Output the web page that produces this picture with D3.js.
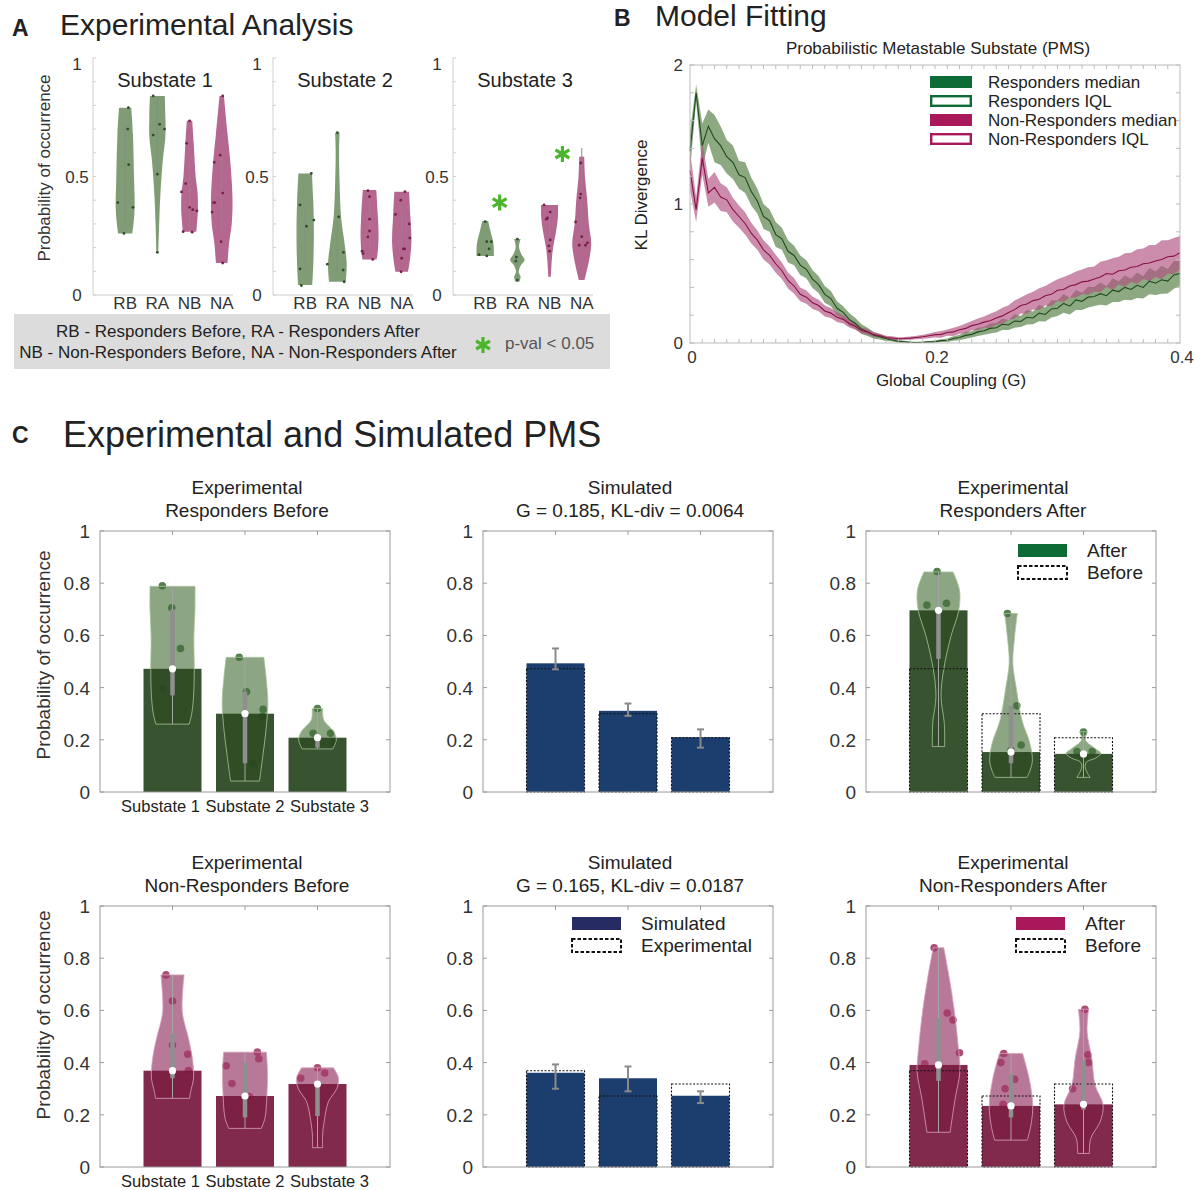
<!DOCTYPE html>
<html><head><meta charset="utf-8">
<script src="https://cdn.jsdelivr.net/npm/d3@7"></script>
<style>body{margin:0;background:#fff}svg text{font-family:"Helvetica Neue","Liberation Sans",Arial,sans-serif;fill:#222}</style>
</head><body>
<svg id="c" width="1194" height="1190"></svg>
<script>
// ---------------- DATA ----------------
const groupsA = ["RB","RA","NB","NA"];
const substates = ["Substate 1","Substate 2","Substate 3"];
const yTicksA = [0, 0.5, 1];
const yTicksC = [0, 0.2, 0.4, 0.6, 0.8, 1];
const xTicksB = [0, 0.2, 0.4];
const yTicksB = [0, 1, 2];

// Panel A violins: profile [value, half-width in category units], points [value, jitter]
const profA1 = [
 [[0.79,0.19],[0.68,0.24],[0.47,0.28],[0.37,0.295],[0.29,0.25],[0.26,0.22]],
 [[0.84,0.23],[0.75,0.25],[0.67,0.25],[0.57,0.17],[0.44,0.10],[0.30,0.056],[0.18,0.03]],
 [[0.735,0.084],[0.64,0.13],[0.50,0.19],[0.43,0.25],[0.36,0.26],[0.30,0.23],[0.267,0.21]],
 [[0.84,0.07],[0.68,0.18],[0.54,0.28],[0.40,0.335],[0.30,0.31],[0.22,0.23],[0.135,0.18]]
];
const profA2 = [
 [[0.513,0.21],[0.40,0.25],[0.26,0.27],[0.12,0.25],[0.042,0.22]],
 [[0.685,0.07],[0.61,0.053],[0.47,0.07],[0.33,0.115],[0.22,0.22],[0.134,0.29],[0.056,0.26]],
 [[0.443,0.21],[0.33,0.26],[0.246,0.28],[0.176,0.25],[0.15,0.22]],
 [[0.436,0.23],[0.33,0.27],[0.218,0.30],[0.134,0.24],[0.098,0.195]]
];
const profA3 = [
 [[0.312,0.093],[0.274,0.155],[0.218,0.255],[0.176,0.27],[0.165,0.27]],
 [[0.236,0.10],[0.204,0.053],[0.173,0.12],[0.148,0.225],[0.127,0.115],[0.098,0.04],[0.077,0.10],[0.056,0.06]],
 [[0.38,0.265],[0.33,0.26],[0.274,0.21],[0.19,0.10],[0.12,0.056],[0.077,0.04]],
 [[0.583,0.078],[0.50,0.10],[0.40,0.17],[0.30,0.22],[0.218,0.295],[0.148,0.23],[0.063,0.087]]
];
const iqrA1 = [[0.29,0.72],[0.51,0.84],[0.27,0.52],[0.27,0.58]];
const iqrA2 = [[0.11,0.38],[0.10,0.33],[0.20,0.40],[0.19,0.38]];
const iqrA3 = [[0.17,0.23],[0.06,0.16],[0.20,0.35],[0.23,0.62]];
const ptsA1 = [
 [[.79,.10],[.70,.08],[.55,.11],[.39,-.23],[.37,.24],[.26,-.04]],
 [[.84,-.13],[.72,.07],[.675,-.13],[.70,.22],[.51,0],[.18,0]],
 [[.735,0],[.64,-.09],[.47,-.12],[.435,-.25],[.37,0],[.36,.10],[.355,.23],[.267,-.2],[.265,.08]],
 [[.84,.03],[.59,-.05],[.56,-.23],[.43,.03],[.39,-.25],[.39,-.22],[.35,-.3],[.225,-.02],[.135,.03]]
];
const ptsA2 = [
 [[.513,.19],[.38,-.16],[.316,.27],[.29,.04],[.11,-.16],[.04,-.12]],
 [[.685,0],[.33,.04],[.18,.19],[.13,-.31],[.105,.18],[.056,.21]],
 [[.44,-.05],[.415,0],[.32,0],[.27,0],[.245,-.05],[.185,-.23],[.175,-.2],[.15,.1]],
 [[.436,.1],[.40,-.03],[.34,-.19],[.30,.23],[.24,.25],[.195,.05],[.195,.09],[.155,0],[.098,-.02]]
];
const ptsA3 = [
 [[.31,0],[.225,.05],[.225,.19],[.195,.12],[.17,-.19],[.165,.05]],
 [[.236,0],[.16,-.03],[.143,-.05],[.063,0]],
 [[.38,-.17],[.35,.02],[.325,-.06],[.32,-.1],[.232,.02],[.207,-.02],[.185,0]],
 [[.557,-.03],[.426,-.03],[.41,-.05],[.308,-.19],[.246,0],[.22,.18],[.21,.12],[.21,-.08]]
];
const sigA3 = [[1.45, 0.39], [3.4, 0.595]];

// Panel B: KL divergence vs global coupling (G grid step 0.005)
const gStep = 0.005;
const respMed = [1.38,1.80,1.42,1.56,1.47,1.42,1.34,1.30,1.21,1.19,
 1.09,1.02,0.91,0.88,0.78,0.75,0.66,0.63,0.56,0.53,
 0.46,0.42,0.35,0.32,0.25,0.22,0.17,0.14,0.10,0.08,
 0.055,0.045,0.03,0.022,0.012,0.009,0.005,0.004,0.005,0.008,
 0.010,0.017,0.020,0.033,0.040,0.055,0.062,0.080,0.088,0.105,
 0.110,0.135,0.130,0.158,0.155,0.185,0.180,0.215,0.205,0.245,
 0.250,0.285,0.265,0.310,0.300,0.330,0.335,0.355,0.340,0.380,
 0.370,0.400,0.385,0.415,0.400,0.445,0.430,0.455,0.445,0.490,0.500];
const respHalf = [0.14,0.06,0.16,0.12,0.17,0.14,0.12,0.12,0.10,0.11,
 0.10,0.09,0.09,0.08,0.09,0.08,0.08,0.07,0.07,0.065,
 0.065,0.06,0.06,0.055,0.05,0.045,0.045,0.04,0.035,0.03,
 0.025,0.02,0.016,0.012,0.01,0.008,0.006,0.005,0.005,0.006,
 0.008,0.01,0.012,0.016,0.02,0.024,0.022,0.03,0.028,0.036,
 0.034,0.042,0.036,0.048,0.04,0.052,0.046,0.058,0.05,0.062,
 0.055,0.068,0.06,0.072,0.062,0.075,0.068,0.08,0.07,0.085,
 0.075,0.088,0.078,0.092,0.08,0.095,0.085,0.10,0.088,0.10,0.09];
const nonMed = [1.24,0.96,1.33,1.08,1.12,1.05,1.03,0.96,0.91,0.86,
 0.79,0.74,0.67,0.63,0.57,0.52,0.45,0.41,0.35,0.33,
 0.29,0.27,0.23,0.215,0.185,0.17,0.14,0.12,0.09,0.08,
 0.06,0.052,0.04,0.036,0.03,0.032,0.035,0.04,0.045,0.052,
 0.06,0.062,0.075,0.08,0.095,0.105,0.125,0.135,0.15,0.16,
 0.18,0.195,0.22,0.24,0.27,0.28,0.305,0.315,0.34,0.35,
 0.38,0.385,0.41,0.42,0.44,0.445,0.46,0.475,0.50,0.495,
 0.52,0.525,0.545,0.55,0.57,0.575,0.59,0.60,0.62,0.625,0.65];
const nonHalf = [0.14,0.09,0.12,0.10,0.11,0.10,0.09,0.085,0.08,0.08,
 0.075,0.07,0.07,0.065,0.065,0.06,0.058,0.055,0.05,0.048,
 0.045,0.042,0.04,0.036,0.034,0.03,0.028,0.025,0.022,0.02,
 0.017,0.015,0.013,0.012,0.011,0.011,0.012,0.013,0.015,0.017,
 0.02,0.024,0.022,0.03,0.028,0.036,0.034,0.042,0.04,0.05,
 0.048,0.058,0.052,0.065,0.058,0.07,0.064,0.078,0.07,0.085,
 0.078,0.09,0.082,0.095,0.088,0.10,0.09,0.11,0.095,0.115,
 0.10,0.12,0.105,0.125,0.11,0.13,0.115,0.14,0.12,0.13,0.12];
const legendB = ["Responders median","Responders IQL","Non-Responders median","Non-Responders IQL"];

// Panel C
const profRB = [
 [[0.788,0.31],[0.70,0.31],[0.595,0.295],[0.467,0.30],[0.365,0.29],[0.30,0.265],[0.26,0.23]],
 [[0.516,0.26],[0.442,0.29],[0.34,0.315],[0.238,0.29],[0.148,0.25],[0.042,0.20]],
 [[0.32,0.073],[0.276,0.085],[0.231,0.225],[0.199,0.26],[0.165,0.21]]
];
const profRA = [
 [[0.843,0.20],[0.774,0.29],[0.697,0.28],[0.595,0.17],[0.467,0.07],[0.365,0.035],[0.263,0.08],[0.174,0.085]],
 [[0.684,0.087],[0.595,0.05],[0.493,0.025],[0.403,0.07],[0.276,0.15],[0.187,0.26],[0.123,0.295],[0.084,0.265],[0.056,0.22]],
 [[0.231,0.05],[0.199,0.028],[0.167,0.16],[0.148,0.24],[0.129,0.16],[0.116,0.045],[0.097,0.023],[0.072,0.055],[0.056,0.092]]
];
const profNB = [
 [[0.736,0.16],[0.595,0.135],[0.493,0.22],[0.416,0.275],[0.34,0.29],[0.289,0.25],[0.263,0.235]],
 [[0.44,0.295],[0.365,0.31],[0.263,0.30],[0.187,0.275],[0.148,0.225]],
 [[0.38,0.22],[0.34,0.29],[0.30,0.265],[0.25,0.15],[0.174,0.092],[0.123,0.07],[0.074,0.07]]
];
const profNA = [
 [[0.84,0.073],[0.723,0.15],[0.595,0.22],[0.467,0.27],[0.365,0.295],[0.263,0.23],[0.133,0.16]],
 [[0.435,0.16],[0.34,0.25],[0.238,0.30],[0.161,0.275],[0.103,0.225]],
 [[0.604,0.07],[0.518,0.05],[0.416,0.115],[0.314,0.16],[0.238,0.27],[0.174,0.23],[0.11,0.10],[0.052,0.08]]
];
const ptsRB = [[[.79,-.14],[.706,-.01],[.55,.11],[.397,-.13]],[[.516,-.08],[.384,.02],[.317,.25],[.29,.24],[.11,.11]],[[.32,0],[.225,-.06],[.225,.18],[.19,.22]]];
const ptsRA = [[[.845,-.02],[.716,-.16],[.723,.11]],[[.684,-.05],[.33,.08],[.18,.14],[.16,0]],[[.23,0],[.155,-.09],[.155,.12]]];
const ptsNB = [[[.736,-.09],[.636,0],[.467,0],[.432,.21],[.37,.22]],[[.44,.17],[.415,.19],[.388,-.26],[.32,-.18],[.27,.06]],[[.38,0],[.34,-.23],[.36,.1]]];
const ptsNA = [[[.84,-.06],[.59,.12],[.563,.2],[.438,.29],[.395,-.19]],[[.435,-.1],[.40,-.14],[.336,.05],[.30,-.08],[.24,-.11]],[[.604,.02],[.43,.06],[.40,.07],[.30,-.15]]];
const medRB = [0.472, 0.30, 0.208], iqrRB = [[0.37,0.70],[0.11,0.384],[0.17,0.225]];
const medRA = [0.696, 0.153, 0.146], iqrRA = [[0.51,0.71],[0.11,0.33],[0.14,0.16]];
const medNB = [0.369, 0.272, 0.318], iqrNB = [[0.34,0.51],[0.19,0.40],[0.195,0.32]];
const medNA = [0.391, 0.234, 0.24], iqrNA = [[0.33,0.57],[0.19,0.355],[0.22,0.41]];
const simResp = [0.493, 0.311, 0.21], simRespErr = [[0.47,0.55],[0.292,0.339],[0.17,0.24]];
const simNon = [0.361, 0.34, 0.273], simNonErr = [[0.30,0.393],[0.29,0.385],[0.245,0.29]];

// ---------------- DRAWING ----------------
const svg = d3.select("#c");
const COL = {
  gA:"#7f9c74", mA:"#b4688f", gPtA:"#2f4f2b", mPtA:"#7a1f4a",
  gV:"#8ca582", gBar:"#29461f", gOut:"#a9c49c", gPt:"#42703c", gLeg:"#0d6b35",
  mV:"#b87898", mBar:"#771a3d", mOut:"#d8a3bd", mPt:"#a33a66", mLeg:"#a8185a",
  nBar:"#1b3e6e", nLeg:"#262b63", star:"#4cb52e"
};
function T(x, y, s, size, o = {}) {
  const t = svg.append("text").attr("x", x).attr("y", y).attr("font-size", size).text(s);
  if (o.anchor) t.attr("text-anchor", o.anchor);
  if (o.weight) t.attr("font-weight", o.weight);
  if (o.fill) t.style("fill", o.fill);
  if (o.rot) t.attr("transform", `rotate(-90,${x},${y})`);
  return t;
}
function vArea(x, y, cx) {
  return d3.area().y(d => y(d[0])).x0(d => x(cx - d[1])).x1(d => x(cx + d[1])).curve(d3.curveCatmullRom.alpha(0.5));
}
function star(g, cx, cy, r) {
  g.append("path").attr("d", d3.symbol(d3.symbolAsterisk, Math.pow(r / 0.59436, 2))())
    .attr("transform", `translate(${cx},${cy})`).attr("stroke", COL.star).attr("stroke-width", 3.2).attr("fill", "none");
}

// Headings
T(12, 36, "A", 23, {weight:"bold"});
T(60, 35, "Experimental Analysis", 30);
T(614, 26, "B", 23, {weight:"bold"});
T(655, 26, "Model Fitting", 30);
T(12, 443, "C", 23, {weight:"bold"});
T(63, 447, "Experimental and Simulated PMS", 36);

// ---------- Panel A ----------
const aLefts = [93, 273, 453];
const aProf = [profA1, profA2, profA3], aPts = [ptsA1, ptsA2, ptsA3], aIqr = [iqrA1, iqrA2, iqrA3];
aLefts.forEach((L, s) => {
  const x = d3.scaleLinear().domain([0, 4.35]).range([L, L + 140]);
  const y = d3.scaleLinear().domain([0, 1]).range([295, 58]);
  const g = svg.append("g");
  g.append("line").attr("x1", L).attr("x2", L).attr("y1", y(0)).attr("y2", y(1)).attr("stroke", "#cfcfcf");
  g.append("line").attr("x1", L).attr("x2", x(4.35)).attr("y1", y(0)).attr("y2", y(0)).attr("stroke", "#cfcfcf");
  d3.ticks(0, 1, 10).forEach(v => g.append("line").attr("x1", L).attr("x2", L + 3).attr("y1", y(v)).attr("y2", y(v)).attr("stroke", "#cfcfcf"));
  yTicksA.forEach(v => T(L - 16, Math.max(y(v) + 6, y(1) + 12), v, 17, {anchor:"middle", fill:"#333"}));
  groupsA.forEach((grp, i) => T(x(i + 1), 309, grp, 17, {anchor:"middle", fill:"#333"}));
  T(L + 72, 87, substates[s], 20, {anchor:"middle"});
  groupsA.forEach((grp, i) => {
    const cx = i + 1, green = i < 2;
    g.append("path").attr("d", vArea(x, y, cx)(aProf[s][i])).attr("fill", green ? COL.gA : COL.mA);
    const q = aIqr[s][i];
    g.append("line").attr("x1", x(cx)).attr("x2", x(cx)).attr("y1", y(q[0])).attr("y2", y(q[1])).attr("stroke", "#8a8a8a").attr("stroke-width", 1);
    aPts[s][i].forEach(p => g.append("circle").attr("cx", x(cx + p[1])).attr("cy", y(p[0])).attr("r", 1.4).attr("fill", green ? COL.gPtA : COL.mPtA));
  });
  if (s === 2) sigA3.forEach(p => star(g, x(p[0]), y(p[1]), 8));
});
T(50, 168, "Probability of occurrence", 17, {anchor:"middle", rot:true, fill:"#333"});
svg.append("rect").attr("x", 14).attr("y", 314).attr("width", 596).attr("height", 55).attr("fill", "#dcdcdc");
T(238, 337, "RB - Responders Before, RA - Responders After", 17, {anchor:"middle"});
T(238, 358, "NB - Non-Responders Before, NA - Non-Responders After", 17, {anchor:"middle"});
star(svg, 483, 345, 8);
T(505, 349, "p-val < 0.05", 17, {fill:"#555"});

// ---------- Panel B ----------
{
  const gGrid = respMed.map((d, i) => i * gStep);
  const x = d3.scaleLinear().domain([0, 0.4]).range([690, 1180]);
  const y = d3.scaleLinear().domain([0, 2]).range([343, 65]);
  const g = svg.append("g");
  const band = (med, half) => d3.area().x((d, i) => x(gGrid[i])).y0((d, i) => y(Math.max(0, med[i] - half[i]))).y1((d, i) => y(med[i] + half[i]))(med);
  const line = (med) => d3.line().x((d, i) => x(gGrid[i])).y(d => y(d))(med);
  g.append("path").attr("d", band(respMed, respHalf)).attr("fill", "#6f9463").attr("fill-opacity", 0.8);
  g.append("path").attr("d", band(nonMed, nonHalf)).attr("fill", "#b0507f").attr("fill-opacity", 0.65);
  g.append("path").attr("d", line(respMed)).attr("fill", "none").attr("stroke", "#1f4a1c").attr("stroke-width", 1.1);
  g.append("path").attr("d", line(nonMed)).attr("fill", "none").attr("stroke", "#8a1044").attr("stroke-width", 1.1);
  g.append("rect").attr("x", 690).attr("y", 65).attr("width", 490).attr("height", 278).attr("fill", "none").attr("stroke", "#bbb");
  d3.range(1, 40).forEach(k => {
    const xv = x(k * 0.01);
    g.append("line").attr("x1", xv).attr("x2", xv).attr("y1", 343).attr("y2", 339).attr("stroke", "#bbb");
    g.append("line").attr("x1", xv).attr("x2", xv).attr("y1", 65).attr("y2", 69).attr("stroke", "#bbb");
  });
  d3.ticks(0, 2, 10).forEach(v => {
    g.append("line").attr("x1", 690).attr("x2", 694).attr("y1", y(v)).attr("y2", y(v)).attr("stroke", "#bbb");
    g.append("line").attr("x1", 1180).attr("x2", 1176).attr("y1", y(v)).attr("y2", y(v)).attr("stroke", "#bbb");
  });
  yTicksB.forEach(v => T(683, y(v) + 6, v, 17, {anchor:"end", fill:"#333"}));
  xTicksB.forEach(v => T(x(v) + 2, 363, v, 17, {anchor:"middle", fill:"#333"}));
  T(938, 54, "Probabilistic Metastable Substate (PMS)", 17, {anchor:"middle"});
  T(951, 386, "Global Coupling (G)", 17, {anchor:"middle"});
  T(647, 195, "KL Divergence", 17, {anchor:"middle", rot:true});
  const legCols = [COL.gLeg, COL.gLeg, COL.mLeg, COL.mLeg];
  legendB.forEach((lab, i) => {
    const yy = 76 + i * 19;
    if (i % 2 === 0) g.append("rect").attr("x", 930).attr("y", yy).attr("width", 42).attr("height", 12).attr("fill", legCols[i]);
    else g.append("rect").attr("x", 931.2).attr("y", yy + 1.2).attr("width", 39.6).attr("height", 9.6).attr("fill", "#fff").attr("stroke", legCols[i]).attr("stroke-width", 2.4);
    T(988, yy + 12, lab, 17);
  });
}

// ---------- Panel C ----------
const cLefts = [100, 483, 866], cTops = [531, 906];
function cAxes(L, Tp, showX) {
  const x = d3.scaleLinear().domain([0, 4]).range([L, L + 290]);
  const y = d3.scaleLinear().domain([0, 1]).range([Tp + 261, Tp]);
  const g = svg.append("g");
  return {x, y, g, finish: () => {
    g.append("rect").attr("x", L).attr("y", Tp).attr("width", 290).attr("height", 261).attr("fill", "none").attr("stroke", "#9a9a9a");
    yTicksC.forEach(v => {
      g.append("line").attr("x1", L).attr("x2", L + 4).attr("y1", y(v)).attr("y2", y(v)).attr("stroke", "#9a9a9a");
      g.append("line").attr("x1", L + 290).attr("x2", L + 286).attr("y1", y(v)).attr("y2", y(v)).attr("stroke", "#9a9a9a");
      T(L - 10, y(v) + 7, v, 19, {anchor:"end", fill:"#333"});
    });
    [1, 2, 3].forEach(c => {
      g.append("line").attr("x1", x(c)).attr("x2", x(c)).attr("y1", Tp).attr("y2", Tp + 4).attr("stroke", "#9a9a9a");
    });
    if (showX) substates.forEach((s, i) => T(x(i + 1) + (i - 1) * 12, Tp + 281, s, 16.5, {anchor:"middle"}));
  }};
}
function dashedRect(g, x, y, c, v) {
  g.append("rect").attr("x", x(c - 0.4)).attr("y", y(v)).attr("width", x(c + 0.4) - x(c - 0.4)).attr("height", y(0) - y(v))
    .attr("fill", "none").attr("stroke", "#111").attr("stroke-width", 1.1).attr("stroke-dasharray", "2,1.6");
}
function expPanel(L, Tp, prof, pts, med, iqr, green, before, showX) {
  const {x, y, g, finish} = cAxes(L, Tp, showX);
  prof.forEach((pr, i) => {
    const c = i + 1;
    g.append("path").attr("d", vArea(x, y, c)(pr)).attr("fill", green ? COL.gV : COL.mV);
    pts[i].forEach(p => g.append("circle").attr("cx", x(c + p[1])).attr("cy", y(p[0])).attr("r", 3.8).attr("fill", green ? COL.gPt : COL.mPt).attr("opacity", 0.9));
    g.append("rect").attr("x", x(c - 0.4)).attr("y", y(med[i])).attr("width", x(c + 0.4) - x(c - 0.4)).attr("height", y(0) - y(med[i]))
      .attr("fill", green ? COL.gBar : COL.mBar).attr("opacity", 0.93);
    g.append("path").attr("d", vArea(x, y, c)(pr)).attr("fill", "none").attr("stroke", green ? COL.gOut : COL.mOut).attr("stroke-width", 0.8);
    if (before) dashedRect(g, x, y, c, before[i]);
    g.append("line").attr("x1", x(c)).attr("x2", x(c)).attr("y1", y(pr[pr.length - 1][0])).attr("y2", y(pr[0][0])).attr("stroke", "#a5a5a5").attr("stroke-width", 1);
    g.append("line").attr("x1", x(c)).attr("x2", x(c)).attr("y1", y(iqr[i][0])).attr("y2", y(iqr[i][1])).attr("stroke", "#8f8f8f").attr("stroke-width", 4.5);
    g.append("circle").attr("cx", x(c)).attr("cy", y(med[i])).attr("r", 3.6).attr("fill", "#fff");
  });
  finish();
}
function simPanel(L, Tp, sim, err, exp) {
  const {x, y, g, finish} = cAxes(L, Tp, false);
  sim.forEach((v, i) => {
    const c = i + 1;
    g.append("rect").attr("x", x(c - 0.4)).attr("y", y(v)).attr("width", x(c + 0.4) - x(c - 0.4)).attr("height", y(0) - y(v)).attr("fill", COL.nBar);
    dashedRect(g, x, y, c, exp[i]);
    g.append("line").attr("x1", x(c)).attr("x2", x(c)).attr("y1", y(err[i][0])).attr("y2", y(err[i][1])).attr("stroke", "#8a8a8a").attr("stroke-width", 2);
    [0, 1].forEach(k => g.append("line").attr("x1", x(c) - 3.5).attr("x2", x(c) + 3.5).attr("y1", y(err[i][k])).attr("y2", y(err[i][k])).attr("stroke", "#8a8a8a").attr("stroke-width", 2));
  });
  finish();
}
function legendC(L, Tp, color, labels) {
  const g = svg.append("g");
  g.append("rect").attr("x", L + 152).attr("y", Tp + 13).attr("width", 49).attr("height", 13).attr("fill", color);
  g.append("rect").attr("x", L + 152).attr("y", Tp + 35).attr("width", 49).attr("height", 13).attr("fill", "none")
    .attr("stroke", "#111").attr("stroke-width", 2).attr("stroke-dasharray", "3.5,2");
  T(L + 221, Tp + 26, labels[0], 19);
  T(L + 221, Tp + 48, labels[1], 19);
}
const titlesC = [
  [["Experimental","Responders Before"],["Simulated","G = 0.185, KL-div = 0.0064"],["Experimental","Responders After"]],
  [["Experimental","Non-Responders Before"],["Simulated","G = 0.165, KL-div = 0.0187"],["Experimental","Non-Responders After"]]
];
titlesC.forEach((row, r) => row.forEach((tt, c) => {
  T(cLefts[c] + 147, cTops[r] - 37, tt[0], 19, {anchor:"middle"});
  T(cLefts[c] + 147, cTops[r] - 14, tt[1], 19, {anchor:"middle"});
}));
expPanel(cLefts[0], cTops[0], profRB, ptsRB, medRB, iqrRB, true, null, true);
simPanel(cLefts[1], cTops[0], simResp, simRespErr, medRB);
expPanel(cLefts[2], cTops[0], profRA, ptsRA, medRA, iqrRA, true, medRB, false);
legendC(cLefts[2], cTops[0], COL.gLeg, ["After", "Before"]);
expPanel(cLefts[0], cTops[1], profNB, ptsNB, medNB, iqrNB, false, null, true);
simPanel(cLefts[1], cTops[1], simNon, simNonErr, medNB);
legendC(cLefts[1] - 63, cTops[1] - 2, COL.nLeg, ["Simulated", "Experimental"]);
expPanel(cLefts[2], cTops[1], profNA, ptsNA, medNA, iqrNA, false, medNB, false);
legendC(cLefts[2] - 2, cTops[1] - 2, COL.mLeg, ["After", "Before"]);
T(50, 655, "Probability of occurrence", 19, {anchor:"middle", rot:true, fill:"#333"});
T(50, 1015, "Probability of occurrence", 19, {anchor:"middle", rot:true, fill:"#333"});
</script></body></html>
